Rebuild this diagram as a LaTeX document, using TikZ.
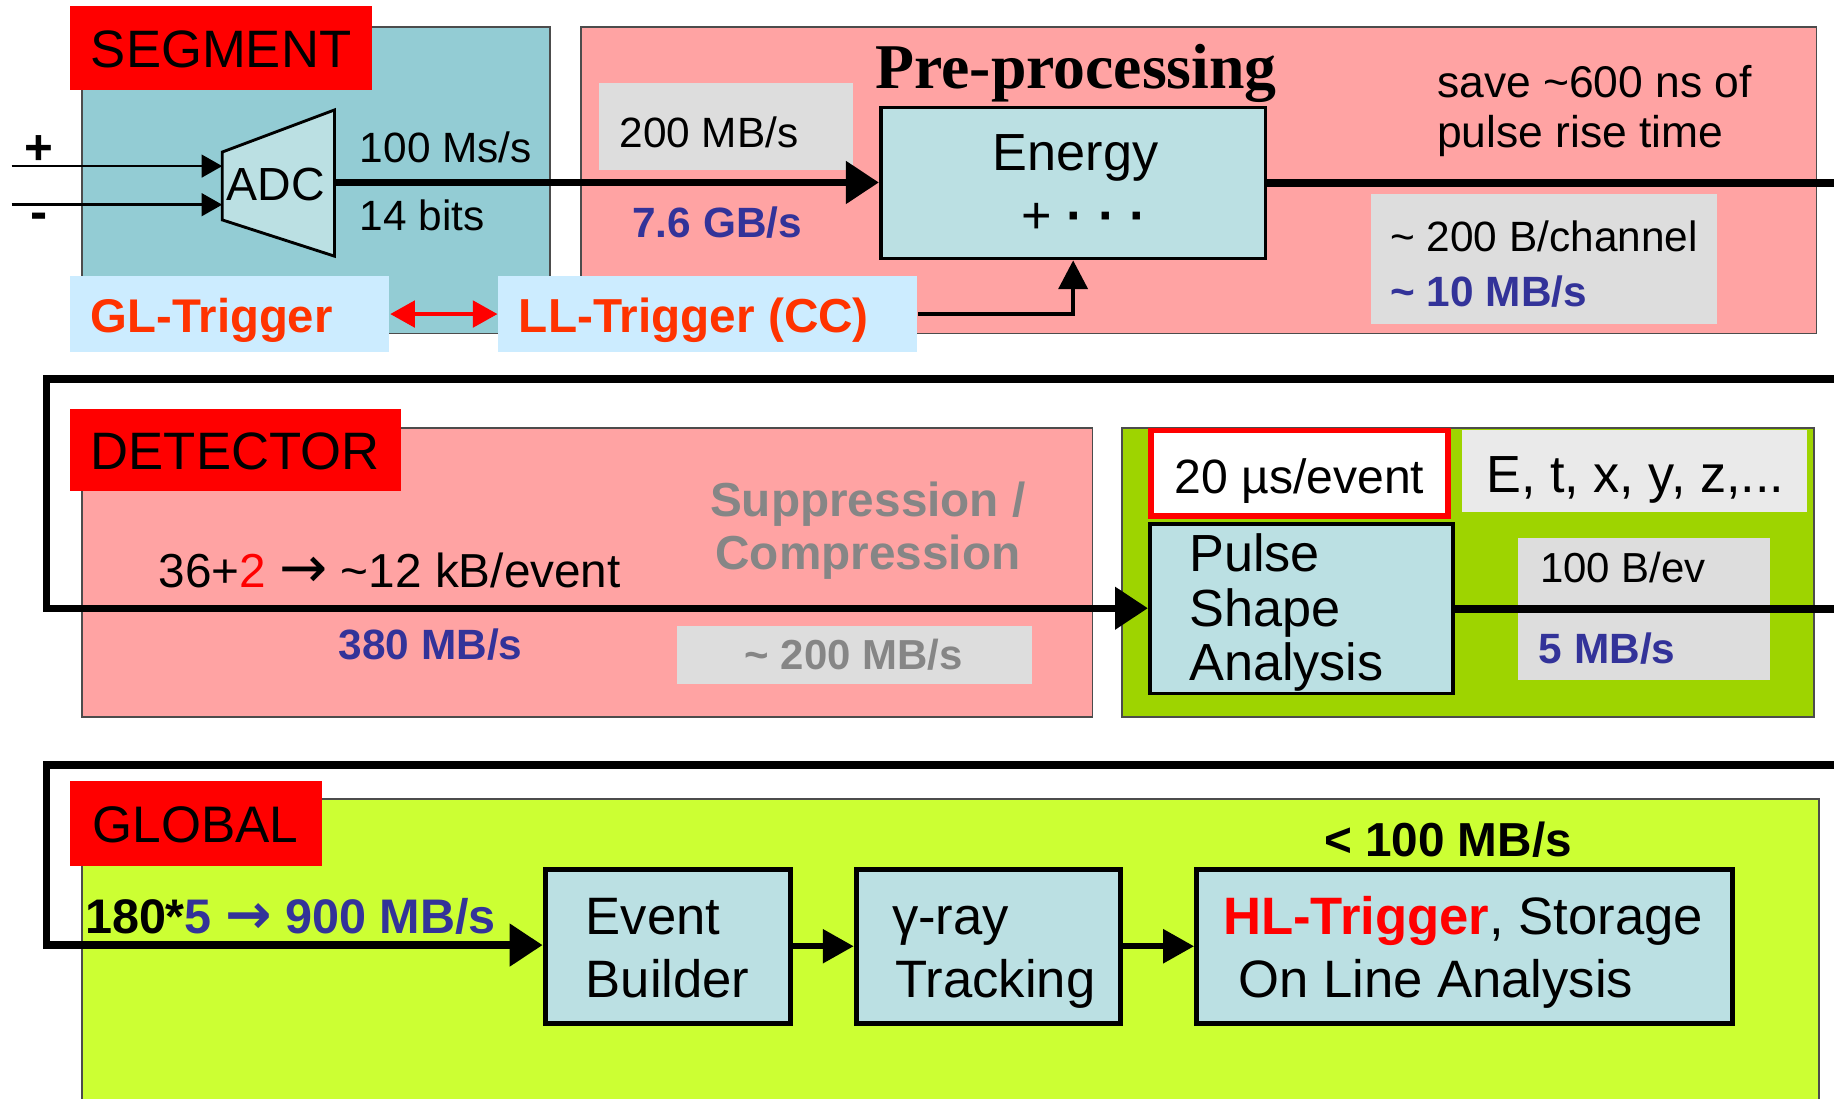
\documentclass[tikz,border=0pt]{standalone}
\usepackage{fontspec}
\setmainfont{Liberation Sans}
\newfontfamily\serifbf{Liberation Serif}
\newfontfamily\dvs{DejaVu Sans}
\usetikzlibrary{arrows.meta,fit}
\definecolor{segteal}{RGB}{147,204,212}
\definecolor{prepink}{RGB}{255,163,163}
\definecolor{boxblue}{RGB}{187,224,227}
\definecolor{trigfill}{RGB}{204,236,255}
\definecolor{trigtext}{RGB}{255,51,0}
\definecolor{rateblue}{RGB}{51,51,153}
\definecolor{graybox}{RGB}{221,221,221}
\definecolor{graytext}{RGB}{134,134,134}
\definecolor{psagreen}{RGB}{158,212,0}
\definecolor{globgreen}{RGB}{204,255,51}
\definecolor{etxgray}{RGB}{234,234,234}
\definecolor{labelred}{RGB}{255,0,0}
\newcommand\fsz[1]{\fontsize{#1}{#1}\selectfont}
\begin{document}
\begin{tikzpicture}[x=0.01cm,y=-0.01cm,
  panel/.style={draw=black!70, line width=0.4pt, inner sep=0pt},
  lbl/.style={fill=labelred, inner sep=0pt},
  lbltext/.style={inner sep=0pt, font=\fsz{12.8pt}},
  proc/.style={draw=black, fill=boxblue, line width=1pt, inner sep=0pt},
  gbox/.style={fill=graybox, inner sep=0pt},
  txt/.style={inner sep=0pt, anchor=base west},
  ctxt/.style={inner sep=0pt, anchor=base},
  flow/.style={line width=1.8pt, line join=miter},
  bigtip/.style={-{Triangle[length=8pt,width=10pt]}},
  smalltip/.style={-{Triangle[length=7.5pt,width=8pt]}},
  rate/.style={font=\fsz{10.3pt}\bfseries, text=rateblue},
]
\useasboundingbox (0,0) rectangle (1568,939);
\clip (0,0) rectangle (1568,939);
\fill[white] (0,0) rectangle (1568,939);

% ---------------- SEGMENT row
\node[panel, fill=segteal, fit={(70,23) (470,285)}] (segbox) {};
\node[panel, fill=prepink, fit={(497,23) (1553,285)}] (prebox) {};
\node[lbl, fit={(60,5) (318,77)}] (seglabel) {};
\node[lbltext] (seglabeltext) at (189,42) {SEGMENT};

\node[inner sep=0pt, font=\fsz{12pt}\bfseries] (plus) at (33,128) {+};
\node[inner sep=0pt, font=\fsz{12.5pt}\bfseries] (minus) at (33,189) {-};
\coordinate (inp) at (10,142);
\coordinate (inm) at (10,175);
\coordinate (adcp) at (190,142);
\coordinate (adcm) at (190,175);
\coordinate (adcout) at (286,156);
\draw[fill=boxblue, line width=0.7pt] (190,130) -- (286,94) -- (286,219) -- (190,188) -- cycle;
\node[inner sep=0pt, font=\fsz{11.3pt}] (adc) at (236,158) {ADC};
\draw[line width=0.6pt, -{Triangle[length=5pt,width=5.5pt]}] (inp) -- (adcp);
\draw[line width=0.6pt, -{Triangle[length=5pt,width=5.5pt]}] (inm) -- (adcm);
\node[txt, font=\fsz{10.3pt}] (msps) at (307,139) {100 Ms/s};
\node[txt, font=\fsz{10.3pt}] (bits) at (307,197) {14 bits};

\node[ctxt, font=\fsz{15.5pt}\serifbf\bfseries] (pretitle) at (920,76) {Pre-processing};
\node[txt, font=\fsz{10.8pt}] (save1) at (1228,83) {save \textasciitilde600 ns of};
\node[txt, font=\fsz{10.8pt}] (save2) at (1228,126) {pulse rise time};

\node[gbox, fit={(512,71) (729,145)}] (r200box) {};
\node[txt, font=\fsz{10.3pt}] (r200) at (529,126) {200 MB/s};
\node[txt, rate] (r76) at (540,203) {7.6 GB/s};

\node[proc, line width=0.9pt, fit={(753,92) (1082,221)}] (energy) {};
\node[txt, font=\fsz{12.7pt}] (energyt) at (848,146) {Energy};
\node[inner sep=0pt, font=\fsz{12.7pt}] (energyd) at (927,187) {+\ \textbf{·}\ \textbf{·}\ \textbf{·}};

\node[gbox, fit={(1172,166) (1468,277)}] (bchbox) {};
\node[txt, font=\fsz{10.3pt}] (bch) at (1188,215) {\textasciitilde\ 200 B/channel};
\node[txt, rate] (r10) at (1188,262) {\textasciitilde\ 10 MB/s};

\node[inner sep=0pt, fill=trigfill, fit={(60,236) (333,301)}] (gl) {};
\node[inner sep=0pt, fill=trigfill, fit={(426,236) (784,301)}] (ll) {};
\node[txt, font=\fsz{11.5pt}\bfseries, text=trigtext] (glt) at (77,284) {GL-Trigger};
\node[txt, font=\fsz{11.6pt}\bfseries, text=trigtext] (llt) at (443,284) {LL-Trigger (CC)};

\coordinate (out1) at (1568,156);
\draw[flow, bigtip] (adcout) -- (adcout -| energy.west);
\draw[flow] (energy.east) -- (energy.east -| out1);
\draw[labelred, line width=0.8pt, {Triangle[length=6pt,width=6.5pt]}-{Triangle[length=6pt,width=6.5pt]}] (gl.east) -- (ll.west);
\draw[line width=1.1pt, -{Triangle[length=7pt,width=7pt]}] (ll.east) -| (energy.south);

% ---------------- DETECTOR row
\node[panel, fill=prepink, fit={(70,366) (934,613)}] (detbox) {};
\node[lbl, fit={(60,350) (343,420)}] (detlabel) {};
\node[lbltext] (detlabeltext) at (201,386) {DETECTOR};
\node[txt, font=\fsz{11.6pt}] (det1) at (135,502) {36+\textcolor{labelred}{2} {\dvs\fsz{14pt}→} \textasciitilde12 kB/event};
\node[txt, rate] (r380) at (289,564) {380 MB/s};
\node[ctxt, font=\fsz{11.6pt}\bfseries, text=graytext] (sup1) at (742,442) {Suppression /};
\node[ctxt, font=\fsz{11.6pt}\bfseries, text=graytext] (sup2) at (742,487) {Compression};
\node[gbox, fit={(579,535) (882,585)}] (supbox) {};
\node[ctxt, font=\fsz{10.2pt}\bfseries, text=graytext] (sup3) at (730,572) {\textasciitilde\ 200 MB/s};

\node[panel, fill=psagreen, fit={(959,366) (1551,613)}] (psaouter) {};
\node[draw=labelred, line width=1.4pt, fill=white, inner sep=0pt, fit={(984,368) (1238,441)}] (usbox) {};
\node[ctxt, font=\fsz{11.7pt}] (ust) at (1111,422) {20 µs/event};
\node[fill=etxgray, inner sep=0pt, fit={(1250,368) (1545,438)}] (etxbox) {};
\node[ctxt, font=\fsz{12.7pt}] (etx) at (1398,421) {E, t, x, y, z,...};
\node[proc, line width=0.9pt, fit={(983,448) (1242,593)}] (psa) {};
\node[txt, font=\fsz{12.7pt}] (psa1) at (1016,489) {Pulse};
\node[txt, font=\fsz{12.7pt}] (psa2) at (1016,536) {Shape};
\node[txt, font=\fsz{12.7pt}] (psa3) at (1016,582) {Analysis};
\node[gbox, fit={(1298,460) (1513,581)}] (bevbox) {};
\node[txt, font=\fsz{10.2pt}] (bev) at (1316,498) {100 B/ev};
\node[txt, rate] (r5) at (1315,567) {5 MB/s};

\coordinate (ret1) at (1568,324);
\coordinate (c1) at (40,324);
\coordinate (c2) at (40,520);
\coordinate (out2) at (1568,520);
\draw[flow, bigtip] (ret1) -- (c1) -- (c2) -- (c2 -| psa.west);
\draw[flow] (psa.east) -- (psa.east -| out2);

% ---------------- GLOBAL row
\node[panel, fill=globgreen, fit={(70,683) (1555,960)}] (globbox) {};
\node[lbl, fit={(60,668) (275,740)}] (globlabel) {};
\node[lbltext, font=\fsz{12.5pt}] (globlabeltext) at (167,705) {GLOBAL};
\node[txt, font=\fsz{11.8pt}\bfseries] (r900) at (72,798) {180*\textcolor{rateblue}{5 {\dvs\bfseries\fsz{13.5pt}→} 900 MB/s}};
\node[ctxt, font=\fsz{11.6pt}\bfseries] (r100) at (1238,732) {< 100 MB/s};

\node[proc, line width=1.2pt, fit={(466,743) (676,875)}] (eb) {};
\node[txt, font=\fsz{12.8pt}] (eb1) at (500,799) {Event};
\node[txt, font=\fsz{12.8pt}] (eb2) at (500,853) {Builder};
\node[proc, line width=1.2pt, fit={(732,743) (958,875)}] (trk) {};
\node[txt, font=\fsz{12.8pt}] (trk1) at (762,799) {γ-ray};
\node[txt, font=\fsz{12.8pt}] (trk2) at (765,853) {Tracking};
\node[proc, line width=1.2pt, fit={(1023,743) (1481,875)}] (hl) {};
\node[txt, font=\fsz{12.8pt}] (hl1) at (1045,799) {\textcolor{labelred}{\bfseries HL-Trigger}, Storage};
\node[txt, font=\fsz{12.8pt}] (hl2) at (1058,853) {On Line Analysis};

\coordinate (ret2) at (1568,654);
\coordinate (c3) at (40,654);
\coordinate (c4) at (40,808);
\draw[flow, bigtip] (ret2) -- (c3) -- (c4) -- (c4 -| eb.west);
\draw[line width=1.4pt, smalltip] (eb.east) -- (trk.west);
\draw[line width=1.4pt, smalltip] (trk.east) -- (hl.west);
\end{tikzpicture}
\end{document}
